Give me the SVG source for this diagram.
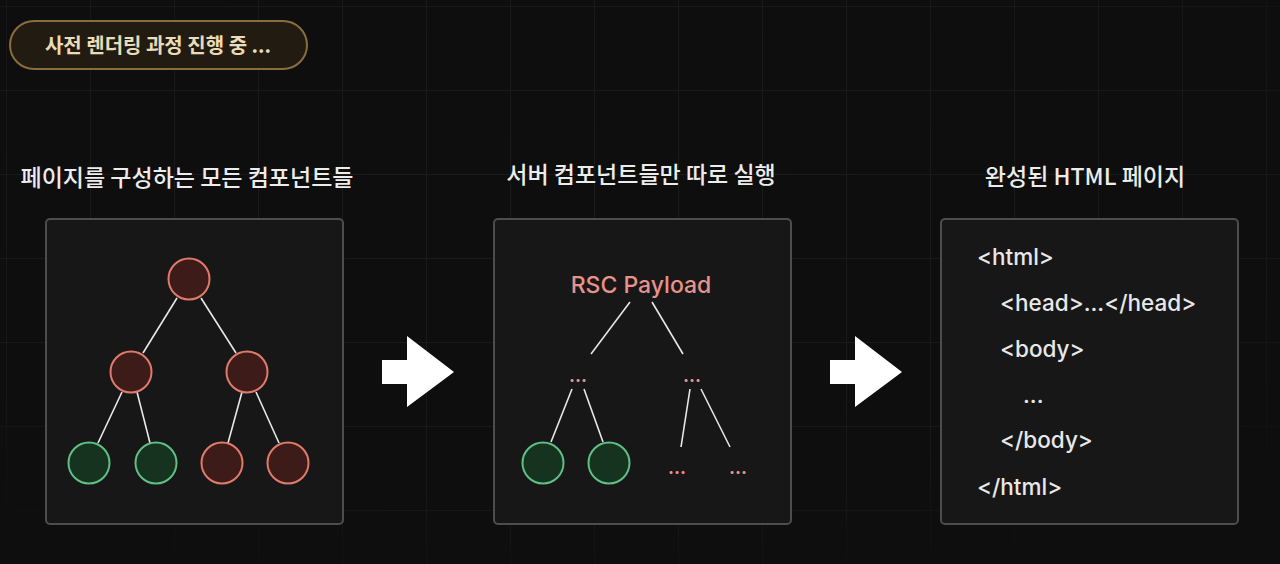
<svg xmlns="http://www.w3.org/2000/svg" width="1280" height="564" viewBox="0 0 1280 564">
<defs>
<pattern id="grid" x="6" y="6" width="84" height="84" patternUnits="userSpaceOnUse">
<path d="M0 0H84M0 0V84" fill="none" stroke="#1b1b1b" stroke-width="2"/>
</pattern>
<radialGradient id="fade" cx="0.45" cy="0.35" r="0.75">
<stop offset="0" stop-color="#0e0e0e" stop-opacity="0"/>
<stop offset="0.7" stop-color="#0e0e0e" stop-opacity="0.2"/>
<stop offset="1" stop-color="#0e0e0e" stop-opacity="1"/>
</radialGradient>
</defs>
<style>
.kr{font-family:"Noto Sans CJK KR","Noto Sans",sans-serif}
.h{fill:#ececec;font-size:23px;font-weight:500;text-anchor:middle}
.panel{fill:#171717;stroke:#4d4d4d;stroke-width:2}
.red{fill:#3c1b18;stroke:#e07b6b;stroke-width:2}
.green{fill:#15331f;stroke:#5fbf84;stroke-width:2}
.edge{stroke:#e8e8e8;stroke-width:1.6;fill:none}
.dots{fill:#e8928a;font-family:Inter,"Liberation Sans",sans-serif;font-size:18px;font-weight:700;text-anchor:middle}
.code{fill:#e8e8e8;font-family:Inter,"Liberation Sans",sans-serif;font-size:22.5px;font-weight:500}
.arrow{fill:#ffffff}
</style>
<rect width="1280" height="564" fill="#0e0e0e"/>
<rect width="1280" height="564" fill="url(#grid)"/>
<rect width="1280" height="564" fill="url(#fade)"/>

<g id="badge">
<rect x="10" y="21" width="297" height="48" rx="24" fill="#221b12" stroke="#8a6d3f" stroke-width="2"/>
<text class="kr" x="158" y="53" font-size="20" font-weight="700" fill="#eadcb8" text-anchor="middle">사전 렌더링 과정 진행 중 ...</text>
</g>

<g id="heading1"><text class="kr h" x="187" y="186">페이지를 구성하는 모든 컴포넌트들</text></g>
<g id="heading2"><text class="kr h" x="641" y="183">서버 컴포넌트들만 따로 실행</text></g>
<g id="heading3"><text class="kr h" x="1085" y="185">완성된 HTML 페이지</text></g>

<g id="panel1"><rect class="panel" x="46" y="219" width="297" height="305" rx="4"/></g>
<g id="panel2"><rect class="panel" x="494" y="219" width="297" height="305" rx="4"/></g>
<g id="panel3"><rect class="panel" x="941" y="219" width="297" height="305" rx="4"/></g>

<g id="connectors">
<line class="edge" x1="177" y1="298" x2="143" y2="353"/>
<line class="edge" x1="201" y1="298" x2="236" y2="353"/>
<line class="edge" x1="122" y1="392" x2="98" y2="443"/>
<line class="edge" x1="137" y1="392" x2="150" y2="443"/>
<line class="edge" x1="242" y1="392" x2="228" y2="443"/>
<line class="edge" x1="256" y1="392" x2="279" y2="443"/>
<line class="edge" x1="630" y1="302" x2="591" y2="354"/>
<line class="edge" x1="652" y1="302" x2="683" y2="354"/>
<line class="edge" x1="572" y1="389" x2="551" y2="442"/>
<line class="edge" x1="584" y1="389" x2="603" y2="442"/>
<line class="edge" x1="690" y1="389" x2="681" y2="447"/>
<line class="edge" x1="701" y1="389" x2="730" y2="447"/>
</g>

<g id="tree1-root"><circle class="red" cx="189" cy="279" r="20.5"/></g>
<g id="tree1-mid-left"><circle class="red" cx="131" cy="372" r="20.5"/></g>
<g id="tree1-mid-right"><circle class="red" cx="247" cy="372" r="20.5"/></g>
<g id="tree1-leaf1"><circle class="green" cx="89" cy="463" r="20.5"/></g>
<g id="tree1-leaf2"><circle class="green" cx="156" cy="463" r="20.5"/></g>
<g id="tree1-leaf3"><circle class="red" cx="222" cy="463" r="20.5"/></g>
<g id="tree1-leaf4"><circle class="red" cx="288" cy="463" r="20.5"/></g>

<g id="rsc-payload"><text x="641" y="293" font-family="Inter,'Liberation Sans',sans-serif" font-size="23" font-weight="500" fill="#e8928a" text-anchor="middle">RSC Payload</text></g>
<g id="rsc-dots-left"><text class="dots" x="578" y="382">...</text></g>
<g id="rsc-dots-right"><text class="dots" x="692" y="382">...</text></g>
<g id="rsc-leaf1"><circle class="green" cx="543" cy="463" r="20.5"/></g>
<g id="rsc-leaf2"><circle class="green" cx="609" cy="463" r="20.5"/></g>
<g id="rsc-dots-leaf3"><text class="dots" x="677" y="474">...</text></g>
<g id="rsc-dots-leaf4"><text class="dots" x="738" y="474">...</text></g>

<g id="html-code">
<text class="code" x="977" y="265">&lt;html&gt;</text>
<text class="code" x="1000" y="311">&lt;head&gt;...&lt;/head&gt;</text>
<text class="code" x="1000" y="357">&lt;body&gt;</text>
<text class="code" x="1023" y="403">...</text>
<text class="code" x="1000" y="448">&lt;/body&gt;</text>
<text class="code" x="977" y="495">&lt;/html&gt;</text>
</g>

<g id="arrow1"><path class="arrow" d="M382 360H407V336L454 372L407 407V384H382Z"/></g>
<g id="arrow2"><path class="arrow" d="M830 360H855V336L902 372L855 407V384H830Z"/></g>
</svg>
